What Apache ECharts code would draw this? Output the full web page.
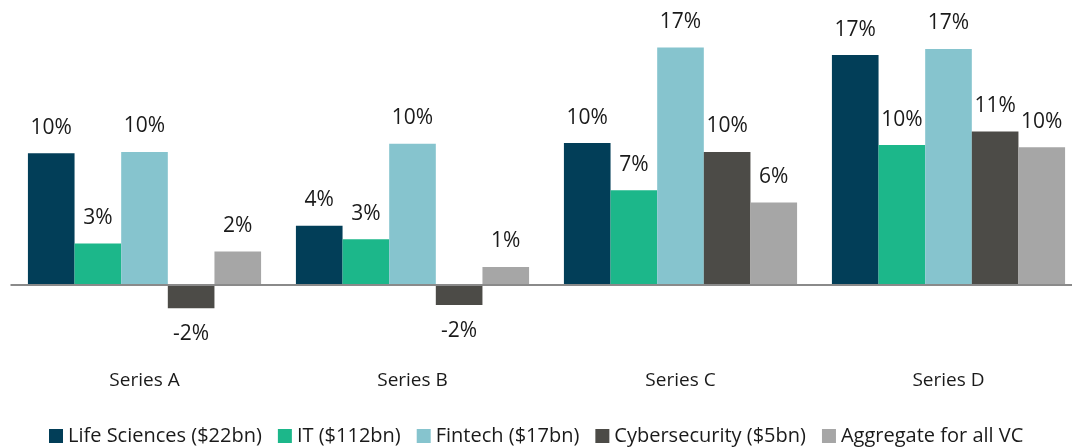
<!DOCTYPE html>
<html>
<head>
<meta charset="utf-8">
<script src="https://cdn.jsdelivr.net/npm/echarts@6/dist/echarts.min.js"></script>
<style>
  html, body { margin: 0; padding: 0; background: #fff; overflow: hidden; }
  #chart { width: 1084px; height: 447px; }
</style>
</head>
<body>
<div id="chart"></div>
<script>
// categories on the x axis
const categories = ['Series A', 'Series B', 'Series C', 'Series D']

// series names (legend) and values in %
const seriesNames = [
  'Life Sciences ($22bn)',
  'IT ($112bn)',
  'Fintech ($17bn)',
  'Cybersecurity ($5bn)',
  'Aggregate for all VC'
]
const lifeSciences = [9.6, 4.3, 10.35, 16.8]
const it = [3.0, 3.3, 6.9, 10.2]
const fintech = [9.7, 10.3, 17.35, 17.25]
const cybersecurity = [-1.75, -1.52, 9.7, 11.2]
const aggregate = [2.4, 1.27, 6.0, 10.05]

const colors = ['#023e58', '#1cb78a', '#86c4ce', '#4c4b47', '#a6a6a6']
const allValues = [lifeSciences, it, fintech, cybersecurity, aggregate]
const font = 'Open Sans'

const chart = echarts.init(document.getElementById('chart'))

const series = allValues.map(function(vals, i) {
  const s = {
    name: seriesNames[i],
    type: 'bar',
    barGap: 0,
    barCategoryGap: '13%',
    itemStyle: { color: colors[i] },
    label: {
      show: true,
      position: 'top',
      distance: 15,
      fontSize: 21,
      color: '#1a1a1a',
      fontFamily: font,
      formatter: function(p) { return Math.round(p.value) + '%' }
    },
    data: vals.map(function(v) {
      return v < 0 ? { value: v, label: { position: 'bottom' } } : v
    })
  }
  if (i === 0) {
    s.markLine = {
      silent: true,
      symbol: 'none',
      label: { show: false },
      lineStyle: { color: '#8a8a8a', width: 2, type: 'solid' },
      data: [{ yAxis: 0 }]
    }
  }
  return s
})

chart.setOption({
  animation: false,
  color: colors,
  grid: { left: 10.5, top: 25, width: 1072, height: 341.25, containLabel: false },
  legend: {
    top: 421,
    left: 44,
    itemWidth: 14,
    itemHeight: 14,
    itemGap: 16,
    icon: 'rect',
    textStyle: { fontSize: 20, color: '#1a1a1a', fontFamily: font },
    data: seriesNames
  },
  xAxis: {
    type: 'category',
    data: categories,
    axisLine: { show: false, onZero: false },
    axisTick: { show: false },
    axisLabel: { fontSize: 19, color: '#1a1a1a', fontFamily: font, margin: 5 }
  },
  yAxis: {
    type: 'value',
    min: -6,
    max: 19,
    show: false,
    splitLine: { show: false }
  },
  series: series
})
</script>
</body>
</html>
